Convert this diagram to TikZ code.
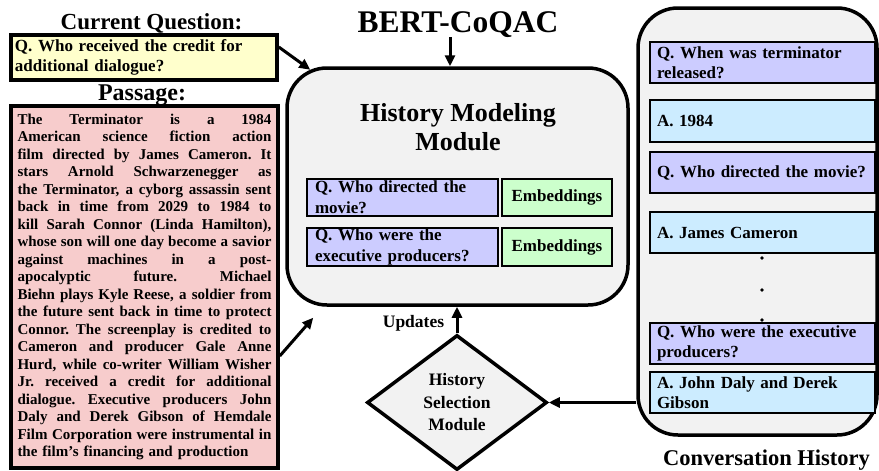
\documentclass[tikz,border=0pt]{standalone}
\usepackage{fontspec}
\setmainfont{Liberation Serif}
\usetikzlibrary{arrows.meta,shapes.geometric}
\definecolor{qyellow}{RGB}{255,255,204}
\definecolor{ppink}{RGB}{247,204,204}
\definecolor{qpurple}{RGB}{204,204,255}
\definecolor{ablue}{RGB}{204,236,255}
\definecolor{egreen}{RGB}{204,255,204}
\definecolor{mgray}{RGB}{242,242,242}
\newcommand\fsz[2]{\fontsize{#1}{#2}\selectfont\bfseries}
\newcommand\pl[1]{\leavevmode{\spaceskip=0.25em plus 1fil\relax\xspaceskip=0.25em plus 1fil\relax\hbox to 254pt{#1}}\\}
\begin{document}
\begin{tikzpicture}[x=1pt,y=-1pt,
 lbl/.style={anchor=base,inner sep=0pt},
 thickbox/.style={draw,line width=3.5pt},
 smallbox/.style={draw,line width=2pt,inner ysep=0pt,inner xsep=8pt},
 qcol/.style={fill=qpurple},
 acol/.style={fill=ablue},
 convitem/.style={smallbox,text width=211pt,inner xsep=7pt,minimum height=41pt,align=left,font=\fsz{17}{19.5}},
 arr/.style={line width=3pt,-{Triangle[length=11pt,width=10pt]}}]
\useasboundingbox (0,0) rectangle (879,471);

% left column
\node[lbl,font=\fsz{23}{27}] (curq) at (151.5,29) {Current Question:};
\node[thickbox,fill=qyellow,minimum height=45pt,text width=258pt,inner xsep=4pt,inner ysep=0pt,align=left,font=\fsz{17}{20}] (yq) at (144,57.5) {Q. Who received the credit for\\additional dialogue?};
\node[lbl,font=\fsz{24}{28}] (passt) at (142,100) {Passage:};
\node[thickbox,fill=ppink,minimum height=362pt,text width=254pt,inner xsep=6.5pt,inner ysep=0pt,align=left,font=\fsz{15}{17.5}] (pass) at (144.5,287) {%
\pl{The Terminator is a 1984}%
\pl{American science fiction action}%
\pl{film directed by James Cameron. It}%
\pl{stars Arnold Schwarzenegger as}%
\pl{the Terminator, a cyborg assassin sent}%
\pl{back in time from 2029 to 1984 to}%
\pl{kill Sarah Connor (Linda Hamilton),}%
\pl{whose son will one day become a savior}%
\pl{against machines in a post-}%
\pl{apocalyptic future. Michael}%
\pl{Biehn plays Kyle Reese, a soldier from}%
\pl{the future sent back in time to protect}%
\pl{Connor. The screenplay is credited to}%
\pl{Cameron and producer Gale Anne}%
\pl{Hurd, while co-writer William Wisher}%
\pl{Jr. received a credit for additional}%
\pl{dialogue. Executive producers John}%
\pl{Daly and Derek Gibson of Hemdale}%
\pl{Film Corporation were instrumental in}%
the film{\char"0027}s financing and production};

% centre
\node[lbl,font=\fsz{31.5}{36}] (bert) at (458,32) {BERT-CoQAC};
\node[thickbox,fill=mgray,rounded corners=40pt,minimum width=341pt,minimum height=237pt] (hmm) at (457.5,186.5) {};
\node[lbl,font=\fsz{26}{30}] (hmmt1) at (458,121.7) {History Modeling};
\node[lbl,font=\fsz{26}{30}] (hmmt2) at (458,150.2) {Module};
\node[smallbox,qcol,text width=175pt,minimum height=37pt,align=left,font=\fsz{17}{21}] (hq1) at (402.5,197.5) {Q. Who directed the\\movie?};
\node[smallbox,fill=egreen,minimum width=110pt,minimum height=37pt,font=\fsz{17}{21}] (he1) at (557,197.5) {Embeddings};
\node[smallbox,qcol,text width=175pt,minimum height=38pt,align=left,font=\fsz{17}{21}] (hq2) at (402.5,247) {Q. Who were the\\executive producers?};
\node[smallbox,fill=egreen,minimum width=110pt,minimum height=38pt,font=\fsz{17}{21}] (he2) at (557,247) {Embeddings};

\node[thickbox,diamond,fill=mgray,minimum width=180pt,minimum height=135pt,inner sep=0pt,align=center,font=\fsz{17.5}{22.5}] (dia) at (457,402.5) {History\\Selection\\Module};
\node[lbl,font=\fsz{17.5}{21}] (upd) at (413.5,327) {Updates};

% right column
\node[thickbox,fill=mgray,rounded corners=40pt,minimum width=239pt,minimum height=427pt] (conv) at (757.5,221.5) {};
\node[convitem,qcol] (c1) at (762.5,62.5) {Q. When was terminator\\released?};
\node[convitem,acol,minimum height=42pt] (c2) at (762.5,121) {A. 1984};
\node[convitem,qcol] (c3) at (762.5,172.5) {Q. Who directed the movie?};
\node[convitem,acol] (c4) at (762.5,232.5) {A. James Cameron};
\node[circle,fill,inner sep=1.4pt] (dot1) at (762,258) {};
\node[circle,fill,inner sep=1.4pt] (dot2) at (762,290) {};
\node[circle,fill,inner sep=1.4pt] (dot3) at (762,320) {};
\node[convitem,qcol] (c5) at (762.5,343.5) {Q. Who were the executive\\producers?};
\node[convitem,acol] (c6) at (762.5,392.5) {A. John Daly and Derek\\Gibson};
\node[lbl,font=\fsz{22.5}{26}] (convt) at (766.5,465) {Conversation History};

% connectors
\draw[arr] ([yshift=10.5pt]yq.east) -- ([shift={(25pt,-3.5pt)}]hmm.north west);
\draw[arr] ([yshift=-69pt]pass.east) -- ([shift={(28pt,-11pt)}]hmm.south west);
\draw[arr] ([xshift=-8pt]bert.south) -- ([xshift=-7.5pt]hmm.north);
\draw[arr] (dia.north) -- (dia.north |- hmm.south);
\draw[arr] (conv.west |- dia.east) -- (dia.east);
\end{tikzpicture}
\end{document}
